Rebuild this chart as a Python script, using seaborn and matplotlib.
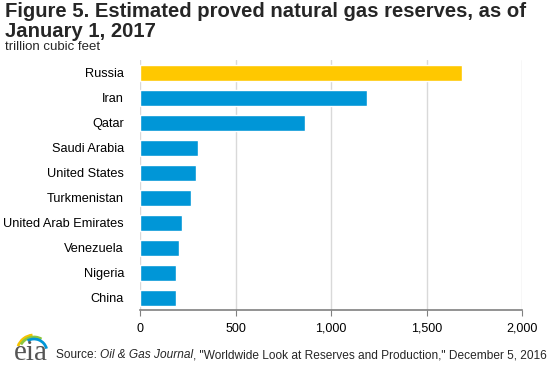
import matplotlib
matplotlib.use('Agg')
import matplotlib.pyplot as plt
import seaborn as sns
import pandas as pd
from matplotlib.patches import Arc

countries = ['Russia', 'Iran', 'Qatar', 'Saudi Arabia', 'United States', 'Turkmenistan',
             'United Arab Emirates', 'Venezuela', 'Nigeria', 'China']
reserves = [1688, 1187, 863, 303, 293, 267, 220, 204, 188, 188]
bar_colors = ['#FFC800'] + ['#0096D7'] * 9
x_ticks = [0, 500, 1000, 1500, 2000]
x_tick_labels = ['0', '500', '1,000', '1,500', '2,000']

sns.set_style('white')
plt.rcParams['font.family'] = ['Liberation Sans', 'DejaVu Sans']

df = pd.DataFrame({'country': countries, 'reserves': reserves})

fig = plt.figure(figsize=(5.59, 3.66), dpi=100)
ax = fig.add_axes([140 / 559, 56 / 366, 382 / 559, 250 / 366])

sns.barplot(data=df, x='reserves', y='country', hue='country', palette=bar_colors,
            legend=False, width=0.64, saturation=1, ax=ax)

ax.set_xlim(0, 2000)
ax.set_ylim(9.5, -0.5)
ax.set_xticks(x_ticks)
ax.set_xticklabels(x_tick_labels)
ax.set_xlabel('')
ax.set_ylabel('')
ax.xaxis.grid(True, color='#D9D9D9', linewidth=1)
ax.set_axisbelow(True)
for s in ['top', 'right', 'left']:
    ax.spines[s].set_visible(False)
ax.spines['bottom'].set_color('#808080')
ax.spines['bottom'].set_linewidth(1.2)
ax.tick_params(axis='x', which='both', bottom=True, length=4, color='#808080',
               labelsize=9, pad=5, labelcolor='#000000')
ax.tick_params(axis='y', left=False, labelsize=9.2, pad=8, labelcolor='#000000')

# title and units
fig.text(5 / 559, 1 - 17 / 366, 'Figure 5. Estimated proved natural gas reserves, as of',
         fontsize=14.6, fontweight='bold', ha='left', va='baseline')
fig.text(5 / 559, 1 - 37 / 366, 'January 1, 2017',
         fontsize=14.6, fontweight='bold', ha='left', va='baseline')
fig.text(5 / 559, 1 - 50 / 366, 'trillion cubic feet', fontsize=9.5, ha='left', va='baseline')

# source line, pieces placed one after another
renderer = fig.canvas.get_renderer()
x = 56
for piece, st in [('Source: ', 'normal'), ('Oil & Gas Journal', 'italic'),
                  (', "Worldwide Look at Reserves and Production," December 5, 2016', 'normal')]:
    t = fig.text(x / 559, 1 - 358 / 366, piece, fontsize=8.6, style=st, ha='left', va='baseline')
    x += t.get_window_extent(renderer).width

# eia logo (pixel units inside a small axes)
logo = fig.add_axes([8 / 559, 4 / 366, 52 / 559, 32 / 366])
logo.set_xlim(0, 52)
logo.set_ylim(0, 32)
logo.axis('off')
logo.text(6, 1.5, 'eia', fontsize=21, family=['Liberation Serif', 'DejaVu Serif'],
          color='#555555', ha='left', va='baseline')
for r, t1, t2, c in [(17, 95, 160, '#F5C400'), (15, 60, 150, '#8CC63F'), (13, 15, 120, '#0096D7')]:
    logo.add_patch(Arc((26, 10), 2 * r, 2 * r, theta1=t1, theta2=t2, color=c, linewidth=2))

fig.savefig('out.png', dpi=100)
